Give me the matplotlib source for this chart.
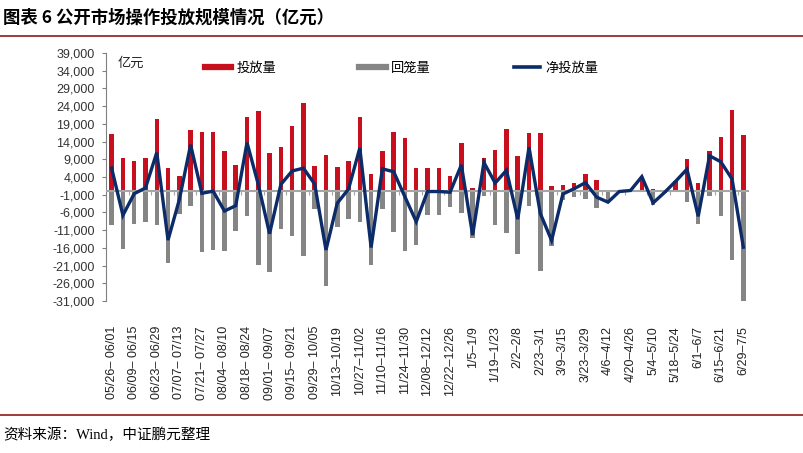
import numpy as np
from matplotlib import pyplot as plt
from matplotlib.lines import Line2D

plt.rcParams['font.family'] = ['Liberation Sans', 'Noto Sans CJK SC', 'DejaVu Sans']

# weekly open market operations, 100 million yuan
inject = [16000, 9400, 8600, 9500, 20400, 6600, 4200, 17400, 16600, 16600,
          11200, 7300, 20800, 22750, 10750, 12600, 18400, 24850, 7200, 10100,
          6800, 8600, 20800, 4900, 11200, 16800, 15100, 6600, 6600, 6600,
          4200, 13600, 1000, 9500, 11700, 17600, 9900, 16500, 16300, 1500,
          1700, 2400, 4750, 3100, 0, 0, 200, 4100, 500, 0,
          2800, 9200, 2200, 11300, 15400, 22800, 15800]
withdraw = [9500, 16200, 9300, 8600, 9500, 20300, 6500, 4300, 17200, 16600,
            16800, 11300, 7100, 20900, 22700, 10800, 12700, 18400, 5100, 26700,
            10200, 7900, 8800, 20700, 5000, 11400, 16800, 15200, 6700, 6700,
            4600, 6200, 13300, 1500, 9500, 11900, 17700, 4100, 22500, 15400,
            2500, 1750, 2300, 4800, 3100, 100, 0, 0, 3800, 400,
            0, 3100, 9200, 1300, 7100, 19400, 31500]
net = [6500, -6800, -700, 900, 10900, -13800, -2400, 13100, -600, 0,
       -5600, -4100, 13700, 1900, -12000, 1900, 5700, 6500, 2000, -16600,
       -3400, 600, 12200, -15900, 6300, 5500, -1600, -8600, -100, -100,
       -300, 7400, -12400, 8100, 2300, 5900, -7900, 12400, -6300, -13900,
       -800, 700, 2400, -1700, -3100, -100, 200, 4100, -3300, -400,
       2800, 6200, -7100, 10000, 8300, 3400, -15800]

# only every other week is labelled
week_labels = ['05/26– 06/01', '06/09– 06/15', '06/23– 06/29', '07/07– 07/13',
               '07/21– 07/27', '08/04– 08/10', '08/18– 08/24', '09/01– 09/07',
               '09/15– 09/21', '09/29– 10/05', '10/13–10/19', '10/27–11/02',
               '11/10–11/16', '11/24–11/30', '12/08–12/12', '12/22–12/26',
               '1/5–1/9', '1/19–1/23', '2/2–2/8', '2/23–3/1', '3/9–3/15',
               '3/23–3/29', '4/6–4/12', '4/20–4/26', '5/4–5/10', '5/18–5/24',
               '6/1–6/7', '6/15–6/21', '6/29–7/5']

RED = '#C80F1E'
GRAY = '#858585'
NAVY = '#0B2B69'
FRAME_RED = '#8E1B1B'
CJK = ['Noto Sans CJK SC', 'DejaVu Sans']


def main():
    fig = plt.figure(figsize=(8.04, 4.53), dpi=100)
    ax = fig.add_axes([106 / 804, 1 - 301 / 453, 643 / 804, 248 / 453])

    x = np.arange(len(inject))
    ax.bar(x, inject, width=0.4, color=RED, zorder=2)
    ax.bar(x, -np.array(withdraw), width=0.4, color=GRAY, zorder=2)
    ax.axhline(0, color='#A6A6A6', lw=1.5, zorder=3)
    ax.plot(x, net, color=NAVY, lw=2.4, zorder=4, solid_joinstyle='miter')

    ax.set_xlim(-0.5, len(inject) - 0.5)
    ax.set_ylim(-31000, 39000)
    yt = np.arange(-31000, 39001, 5000)
    ax.set_yticks(yt)
    ax.set_yticklabels(['{:,}'.format(v) for v in yt], fontsize=9, color='#333333')
    ax.tick_params(axis='y', direction='out', length=3, width=0.8, color='#808080', pad=5)

    ax.set_xticks(x[::2])
    ax.set_xticklabels(week_labels, rotation=90, fontsize=9, color='#222222', va='top')
    ax.tick_params(axis='x', length=0, pad=18)

    for s in ['top', 'right', 'bottom']:
        ax.spines[s].set_visible(False)
    ax.spines['left'].set_color('#808080')
    ax.spines['left'].set_linewidth(0.8)

    # small tick marks sitting on the zero line
    zero_frac = 31000 / 70000
    sec = ax.secondary_xaxis(zero_frac)
    sec.set_xticks(np.arange(1.5, len(inject) - 1, 2))
    sec.set_xticklabels([])
    sec.tick_params(direction='out', length=3, width=0.8, color='#A6A6A6')
    sec.spines['bottom'].set_visible(False)
    sec.spines['top'].set_visible(False)

    ax.text(12 / 643, 1 - 4 / 248, '亿元', transform=ax.transAxes, fontsize=9.5,
            family=CJK, va='top', ha='left', color='#222222')

    handles = [Line2D([], [], color=RED, lw=4.5),
               Line2D([], [], color=GRAY, lw=4.5),
               Line2D([], [], color=NAVY, lw=2.6)]
    ax.legend(handles, ['投放量', '回笼量', '净投放量'], ncol=3, frameon=False,
              loc='center', bbox_to_anchor=(0.46, 0.94), prop={'family': CJK, 'size': 9.5},
              handlelength=2.0, handletextpad=0.4, columnspacing=6.3)

    # header, footer and the dark red rules
    fig.text(3 / 804, 1 - 18 / 453, '图表 6 公开市场操作投放规模情况（亿元）',
             fontsize=12.5, fontweight='bold', family=CJK, va='center', ha='left')
    fig.add_artist(Line2D([0, 1], [1 - 36 / 453] * 2, color=FRAME_RED, lw=1.2))
    fig.add_artist(Line2D([0, 1], [1 - 415 / 453] * 2, color=FRAME_RED, lw=1.2))
    fig.text(3 / 804, 1 - 435 / 453, '资料来源：Wind，中证鹏元整理',
             fontsize=10.5, family=['Liberation Serif', 'Noto Sans CJK SC'], va='center', ha='left')

    fig.savefig('out.png', dpi=100)


if __name__ == "__main__":
    main()
